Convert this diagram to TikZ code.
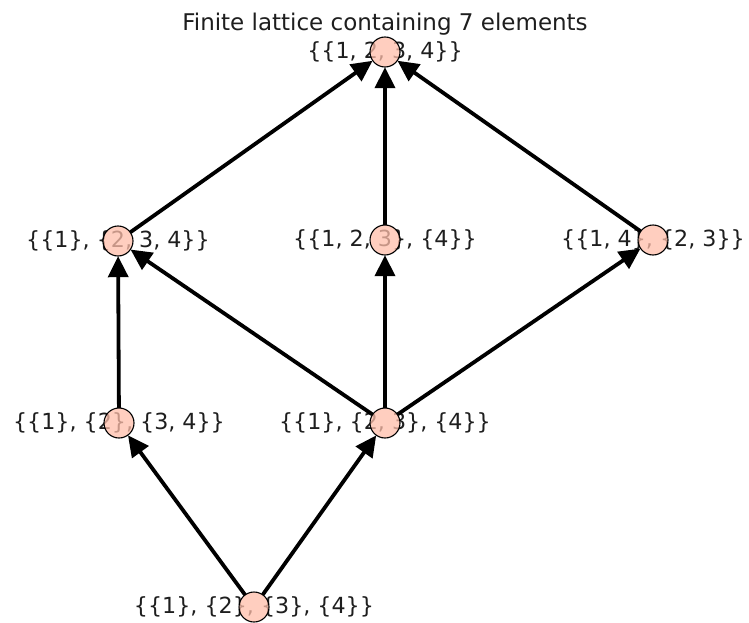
\documentclass[tikz,border=0pt]{standalone}
\usepackage{fontspec}
\setmainfont{DejaVu Sans}
\usetikzlibrary{arrows.meta}
\definecolor{nodefill}{RGB}{255,190,170}
\definecolor{txt}{RGB}{30,30,30}
\tikzset{
  vert/.style={circle,draw=black,line width=1.1pt,fill=nodefill,fill opacity=0.75,minimum size=30pt,inner sep=0pt},
  lab/.style={text=txt,font=\fontsize{22.2}{24}\selectfont,inner sep=0pt},
  ttl/.style={text=txt,font=\fontsize{23}{25}\selectfont,inner sep=0pt},
  edge/.style={line width=3.8pt,-{Triangle[length=21pt,width=20pt]}},
  anchorpt/.style={circle,minimum size=30pt,inner sep=0pt}
}
\begin{document}
\begin{tikzpicture}[x=1pt,y=-1pt]
\useasboundingbox (0,0) rectangle (749,623);
% coordinates
\coordinate (pt) at (385,52);
\coordinate (pa) at (118,241);
\coordinate (pb) at (385,240);
\coordinate (pc) at (653,240);
\coordinate (pd) at (119,423);
\coordinate (pe) at (385,423);
\coordinate (pf) at (254,607);
% title
\node[ttl] (title) at (385,24) {Finite lattice containing 7 elements};
% labels
\node[lab] (lt) at (pt) {\{\{1, 2, 3, 4\}\}};
\node[lab] (la) at (pa) {\{\{1\}, \{2, 3, 4\}\}};
\node[lab] (lb) at (pb) {\{\{1, 2, 3\}, \{4\}\}};
\node[lab] (lc) at (pc) {\{\{1, 4\}, \{2, 3\}\}};
\node[lab] (ld) at (pd) {\{\{1\}, \{2\}, \{3, 4\}\}};
\node[lab] (le) at (pe) {\{\{1\}, \{2, 3\}, \{4\}\}};
\node[lab] (lf) at (pf) {\{\{1\}, \{2\}, \{3\}, \{4\}\}};
% edges (under the circles)
\node[anchorpt] (t) at (pt) {};
\node[anchorpt] (a) at (pa) {};
\node[anchorpt] (b) at (pb) {};
\node[anchorpt] (c) at (pc) {};
\node[anchorpt] (d) at (pd) {};
\node[anchorpt] (e) at (pe) {};
\node[anchorpt] (f) at (pf) {};
\draw[edge] (a) -- (t);
\draw[edge] (b) -- (t);
\draw[edge] (c) -- (t);
\draw[edge] (d) -- (a);
\draw[edge] (e) -- (a);
\draw[edge] (e) -- (b);
\draw[edge] (e) -- (c);
\draw[edge] (f) -- (d);
\draw[edge] (f) -- (e);
% circles
\foreach \p/\n in {pt/vt,pa/va,pb/vb,pc/vc,pd/vd,pe/ve,pf/vf}
  \node[vert] (\n) at (\p) {};
\end{tikzpicture}
\end{document}
